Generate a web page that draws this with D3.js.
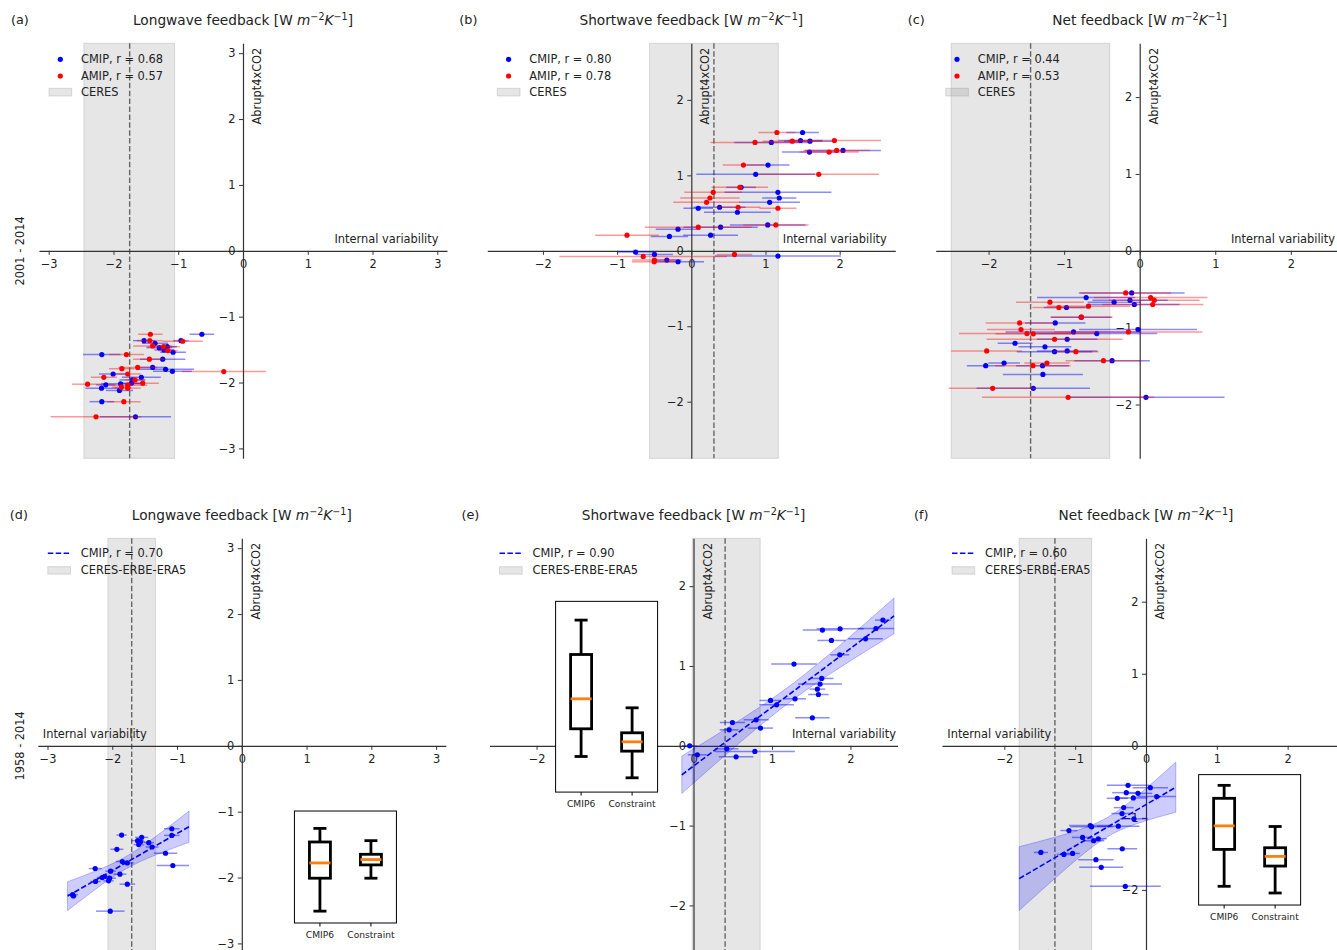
<!DOCTYPE html>
<html>
<head>
<meta charset="utf-8">
<script src="https://cdn.jsdelivr.net/npm/d3@7"></script>
<style>
  body { margin: 0; background: #fff; }
  svg { display: block; font-family: "DejaVu Sans", sans-serif; }
</style>
</head>
<body>
<svg id="fig" width="1337" height="950"></svg>
<script>
"use strict";

// ---- data: [internal variability, abrupt4xCO2, error] ----
var lwCmip01 = [[-0.635,-1.267,0.19],[-1.528,-1.364,0.17],[-0.958,-1.364,0.12],[-1.358,-1.404,0.2],[-1.292,-1.47,0.2],
  [-1.22,-1.505,0.15],[-1.17,-1.455,0.15],[-1.08,-1.54,0.2],[-2.18,-1.575,0.29],[-1.24,-1.645,0.35],[-1.395,-1.77,0.2],
  [-1.195,-1.80,0.44],[-1.09,-1.83,0.3],[-2.005,-1.87,0.22],[-1.57,-1.92,0.3],[-1.708,-1.96,0.2],[-1.723,-2.01,0.2],
  [-2.118,-2.035,0.15],[-1.89,-2.02,0.3],[-2.185,-2.085,0.25],[-1.908,-2.12,0.21],[-2.18,-2.29,0.19],[-1.66,-2.52,0.55]];
var lwAmip01 = [[-1.43,-1.267,0.19],[-1.44,-1.364,0.2],[-0.93,-1.373,0.31],[-1.395,-1.444,0.3],[-1.226,-1.455,0.25],
  [-1.16,-1.515,0.15],[-1.80,-1.575,0.27],[-1.446,-1.645,0.25],[-1.626,-1.77,0.3],[-1.87,-1.79,0.2],[-0.297,-1.833,0.65],
  [-1.78,-1.87,0.2],[-2.149,-1.92,0.2],[-1.667,-1.96,0.15],[-1.549,-2.01,0.25],[-2.40,-2.025,0.24],[-1.78,-2.04,0.3],
  [-1.877,-2.07,0.15],[-1.78,-2.085,0.2],[-1.84,-2.29,0.26],[-2.27,-2.52,0.7]];
var swCmip01 = [[1.50,1.568,0.22],[1.079,1.436,0.5],[1.472,1.462,0.3],[1.60,1.453,0.35],[1.593,1.308,0.37],[2.045,1.33,0.51],
  [1.034,1.136,0.29],[0.868,1.013,0.8],[0.671,0.841,0.2],[1.168,0.775,0.72],[1.186,0.70,0.23],[1.056,0.643,0.41],
  [0.094,0.564,0.2],[0.381,0.577,0.35],[0.622,0.511,0.45],[1.03,0.343,0.51],[0.395,0.313,0.5],[-0.179,0.286,0.3],
  [-0.295,0.19,0.25],[0.26,0.207,0.37],[-0.751,-0.017,0.25],[-0.497,-0.048,0.25],[-0.33,-0.123,0.2],[-0.179,-0.145,0.35],
  [1.168,-0.07,0.85]];
var swAmip01 = [[1.154,1.568,0.25],[0.859,1.436,0.6],[1.361,1.453,0.4],[1.929,1.462,0.63],[1.858,1.308,0.4],[1.96,1.33,0.45],
  [0.703,1.136,0.28],[1.718,1.013,0.81],[0.654,0.841,0.38],[0.295,0.775,0.39],[0.251,0.70,0.4],[0.206,0.643,0.45],
  [0.631,0.577,0.3],[1.168,0.564,0.25],[0.094,0.313,0.72],[1.14,0.343,0.44],[-0.867,0.207,0.43],[0.582,-0.048,0.24],
  [-0.648,-0.075,1.13],[-0.497,-0.123,0.3],[-0.50,-0.145,0.3]];
var netCmip01 = [[-0.106,-0.548,0.7],[-0.709,-0.608,0.65],[-0.128,-0.643,0.5],[-0.339,-0.669,0.35],[-0.071,-0.699,0.6],
  [-0.969,-0.738,0.3],[-0.775,-0.864,0.4],[-1.118,-0.939,0.4],[-0.022,-1.025,0.78],[-0.876,-1.056,0.9],[-0.568,-1.077,0.8],
  [-0.96,-1.151,0.4],[-1.65,-1.203,0.23],[-1.254,-1.25,0.35],[-1.127,-1.312,0.5],[-0.96,-1.303,0.4],[-0.366,-1.43,0.5],
  [-1.795,-1.46,0.21],[-2.038,-1.495,0.25],[-1.286,-1.495,0.35],[-1.281,-1.608,0.53],[-1.408,-1.79,0.75],[0.083,-1.907,1.04]];
var netAmip01 = [[-0.185,-0.548,0.6],[0.145,-0.608,0.75],[0.193,-0.643,0.6],[-1.188,-0.669,0.45],[0.172,-0.699,0.67],
  [-1.07,-0.738,0.35],[-0.678,-0.721,0.55],[-0.77,-0.864,0.41],[-1.589,-0.939,0.45],[-0.15,-1.056,0.98],[-1.571,-1.025,0.45],
  [-1.492,-1.077,0.9],[-1.408,-1.08,0.5],[-1.127,-1.151,0.9],[-2.025,-1.303,0.47],[-0.845,-1.312,0.3],[-0.48,-1.43,0.5],
  [-1.228,-1.46,0.3],[-1.413,-1.495,0.5],[-1.946,-1.79,0.58],[-0.947,-1.907,1.14]];
var lwCmip58 = [[-1.081,-1.259,0.12],[-1.081,-1.36,0.12],[-1.856,-1.355,0.08],[-1.546,-1.39,0.1],[-1.608,-1.44,0.1],
  [-1.566,-1.46,0.08],[-1.437,-1.47,0.08],[-1.592,-1.50,0.08],[-1.386,-1.536,0.1],[-1.929,-1.571,0.1],[-1.178,-1.631,0.18],
  [-1.065,-1.817,0.25],[-1.845,-1.757,0.1],[-1.768,-1.778,0.1],[-2.264,-1.863,0.1],[-2.026,-1.903,0.08],[-1.882,-1.949,0.1],
  [-2.119,-1.984,0.08],[-2.155,-2.0,0.08],[-2.041,-2.01,0.1],[-2.057,-2.05,0.08],[-2.259,-2.06,0.08],[-1.768,-2.10,0.12],
  [-2.611,-2.26,0.08],[-2.60,-2.28,0.05],[-2.031,-2.51,0.22]];
var swCmip58 = [[2.414,1.575,0.1],[2.325,1.47,0.23],[1.643,1.45,0.25],[1.869,1.466,0.3],[1.758,1.32,0.18],[2.193,1.34,0.22],
  [1.864,1.14,0.12],[1.281,1.024,0.29],[1.634,0.844,0.15],[1.613,0.773,0.28],[1.579,0.71,0.1],[1.592,0.643,0.13],
  [0.982,0.568,0.14],[1.294,0.589,0.14],[1.059,0.514,0.22],[1.515,0.351,0.22],[0.799,0.326,0.16],[0.496,0.292,0.16],
  [0.454,0.20,0.12],[0.854,0.222,0.16],[-0.049,0.0,0.1],[0.049,-0.113,0.12],[0.424,-0.038,0.15],[0.543,-0.138,0.22],
  [0.782,-0.071,0.51]];
var netCmip58 = [[-0.254,-0.549,0.3],[0.061,-0.581,0.25],[-0.278,-0.65,0.2],[-0.113,-0.66,0.2],[-0.405,-0.729,0.15],
  [-0.179,-0.724,0.2],[0.151,-0.705,0.27],[-0.315,-0.858,0.14],[-0.339,-0.94,0.15],[-0.17,-1.014,0.2],[-0.787,-1.107,0.3],
  [-0.768,-1.125,0.3],[-0.391,-1.116,0.3],[-1.088,-1.176,0.12],[-0.895,-1.272,0.15],[-0.739,-1.318,0.15],[-0.674,-1.29,0.12],
  [-1.484,-1.48,0.1],[-1.159,-1.508,0.1],[-1.036,-1.494,0.1],[-0.335,-1.429,0.21],[-0.707,-1.581,0.25],[-0.632,-1.687,0.31],
  [-0.292,-1.95,0.5]];

// observations [low, best, high]
var obsLw01 = [-2.457, -1.75, -1.057];
var obsSw01 = [-0.564, 0.305, 1.173];
var obsNet01 = [-2.495, -1.444, -0.396];
var obsLw58 = [-2.068, -1.70, -1.333];
var obsSw58 = [-0.015, 0.403, 0.85];
var obsNet58 = [-1.79, -1.286, -0.767];

// box stats [whisker low, q1, median, q3, whisker high]
var boxLabels = ["CMIP6", "Constraint"];
var boxLw = [[-2.51, -2.01, -1.778, -1.46, -1.254], [-2.01, -1.808, -1.727, -1.647, -1.44]];
var boxSw = [[-0.134, 0.213, 0.589, 1.144, 1.575], [-0.401, -0.067, 0.05, 0.163, 0.476]];
var boxNet = [[-1.95, -1.438, -1.111, -0.729, -0.549], [-2.043, -1.669, -1.535, -1.415, -1.12]];

var ticks3 = [-3, -2, -1, 0, 1, 2, 3];
var ticks2 = [-2, -1, 0, 1, 2];
var titles = ["Longwave feedback", "Shortwave feedback", "Net feedback"];
var periods = ["2001 - 2014", "1958 - 2014"];

var W = 408, H = 415;
var fs = 11.4;

var panels = [
  {tag:"(a)", left:39, top:43.3, lim:3.15, ticks:ticks3, title:titles[0], cmip:lwCmip01, amip:lwAmip01, obs:obsLw01, r:["0.68","0.57"], obsName:"CERES", xlab:["end", 399.5]},
  {tag:"(b)", left:487.3, top:43.3, lim:2.75, ticks:ticks2, title:titles[1], cmip:swCmip01, amip:swAmip01, obs:obsSw01, r:["0.80","0.78"], obsName:"CERES", xlab:["end", 399.5]},
  {tag:"(c)", left:935.7, top:43.3, lim:2.70, ticks:ticks2, title:titles[2], cmip:netCmip01, amip:netAmip01, obs:obsNet01, r:["0.44","0.53"], obsName:"CERES", xlab:["end", 399.3]},
  {tag:"(d)", left:37.8, top:538.3, lim:3.15, ticks:ticks3, title:titles[0], cmip:lwCmip58, obs:obsLw58, r:["0.70"], obsName:"CERES-ERBE-ERA5", xlab:["start", 5], box:boxLw, inset:[0.629, -0.99, -2.69]},
  {tag:"(e)", left:489.5, top:538.3, lim:2.60, ticks:ticks2, title:titles[1], cmip:swCmip58, obs:obsSw58, r:["0.90"], obsName:"CERES-ERBE-ERA5", xlab:["end", 406.5], box:boxSw, inset:[0.162, 1.81, -0.58]},
  {tag:"(f)", left:942, top:538.3, lim:2.88, ticks:ticks2, title:titles[2], cmip:netCmip58, obs:obsNet58, r:["0.60"], obsName:"CERES-ERBE-ERA5", xlab:["start", 5.3], box:boxNet, inset:[0.629, -0.40, -2.21]}
];

var svg = d3.select("#fig");
var fmt = function(d){ return d < 0 ? "\u2212" + (-d) : String(d); };

function fit(pts){
  var n = pts.length;
  var mx = d3.mean(pts, function(d){ return d[0]; });
  var my = d3.mean(pts, function(d){ return d[1]; });
  var sxx = d3.sum(pts, function(d){ return (d[0]-mx)*(d[0]-mx); });
  var sxy = d3.sum(pts, function(d){ return (d[0]-mx)*(d[1]-my); });
  var b = sxy/sxx, a = my - b*mx;
  var s = Math.sqrt(d3.sum(pts, function(d){ var e = d[1]-a-b*d[0]; return e*e; })/(n-2));
  return {a:a, b:b, se:function(x){ return 2.07*s*Math.sqrt(1/n + (x-mx)*(x-mx)/sxx); }};
}

function series(g, x, y, data, color, barOp){
  g.selectAll(null).data(data).enter().append("line")
    .attr("x1", function(d){ return x(d[0]-d[2]); })
    .attr("x2", function(d){ return x(d[0]+d[2]); })
    .attr("y1", function(d){ return y(d[1]); })
    .attr("y2", function(d){ return y(d[1]); })
    .attr("stroke", color).attr("stroke-opacity", barOp).attr("stroke-width", 1.5);
  g.selectAll(null).data(data).enter().append("circle")
    .attr("cx", function(d){ return x(d[0]); })
    .attr("cy", function(d){ return y(d[1]); })
    .attr("r", 2.6).attr("fill", color);
}

panels.forEach(function(p, i){
  var x = d3.scaleLinear().domain([-p.lim, p.lim]).range([p.left, p.left + W]);
  var y = d3.scaleLinear().domain([-p.lim, p.lim]).range([p.top + H, p.top]);
  var g = svg.append("g");

  // observational range
  g.append("rect")
    .attr("x", x(p.obs[0])).attr("y", p.top)
    .attr("width", x(p.obs[2]) - x(p.obs[0])).attr("height", H)
    .attr("fill", "#808080").attr("fill-opacity", 0.2)
    .attr("stroke", "#808080").attr("stroke-opacity", 0.25);
  g.append("line")
    .attr("x1", x(p.obs[1])).attr("x2", x(p.obs[1]))
    .attr("y1", p.top).attr("y2", p.top + H)
    .attr("stroke", "#666").attr("stroke-width", 1.4).attr("stroke-dasharray", "5.5,2.4");

  // axes through zero
  var ax = g.append("g").attr("transform", "translate(0," + y(0) + ")")
    .call(d3.axisBottom(x).tickValues(p.ticks).tickFormat(fmt).tickSize(4).tickSizeOuter(0).tickPadding(5));
  var ay = g.append("g").attr("transform", "translate(" + x(0) + ",0)")
    .call(d3.axisLeft(y).tickValues(p.ticks).tickFormat(fmt).tickSize(4).tickSizeOuter(0).tickPadding(3.5));
  [ax, ay].forEach(function(a){
    a.attr("font-size", null).attr("font-family", null);
    a.select(".domain").attr("stroke", "#333").attr("stroke-width", 1.2);
    a.selectAll(".tick line").attr("stroke", "#333");
    a.selectAll(".tick text").attr("fill", "#222").style("font-size", fs + "px");
  });

  // axis labels
  g.append("text")
    .attr("x", p.left + p.xlab[1]).attr("y", y(0) - 8)
    .attr("text-anchor", p.xlab[0]).style("font-size", fs + "px").attr("fill", "#222")
    .text("Internal variability");
  g.append("text")
    .attr("transform", "translate(" + (x(0) + 18) + "," + (p.top + 4.4) + ") rotate(-90)")
    .attr("text-anchor", "end").style("font-size", fs + "px").attr("fill", "#222")
    .text("Abrupt4xCO2");

  // title
  var t = g.append("text")
    .attr("x", p.left + W/2).attr("y", p.top - 18.3)
    .attr("text-anchor", "middle").style("font-size", "13.7px").attr("fill", "#222");
  t.append("tspan").text(p.title + " [W ");
  t.append("tspan").attr("font-style", "italic").text("m");
  t.append("tspan").style("font-size", "9.6px").attr("dy", -5.5).text("\u22122");
  t.append("tspan").attr("font-style", "italic").attr("dy", 5.5).text("K");
  t.append("tspan").style("font-size", "9.6px").attr("dy", -5.5).text("\u22121");
  t.append("tspan").attr("dy", 5.5).text("]");

  g.append("text")
    .attr("x", p.left - 28).attr("y", p.top - 19.3)
    .style("font-size", "12.8px").attr("fill", "#222").text(p.tag);

  if (i % 3 === 0) {
    g.append("text")
      .attr("transform", "translate(24.3," + (p.top + H/2) + ") rotate(-90)")
      .attr("text-anchor", "middle").style("font-size", fs + "px").attr("fill", "#222")
      .text(periods[i/3]);
  }

  var lx = p.left, ly = p.top;
  if (p.amip) {
    series(g, x, y, p.cmip, "#0000ff", 0.45);
    series(g, x, y, p.amip, "#ff0000", 0.4);

    // legend
    g.append("circle").attr("cx", lx + 21.3).attr("cy", ly + 16).attr("r", 2.6).attr("fill", "#0000ff");
    g.append("circle").attr("cx", lx + 21.3).attr("cy", ly + 32.7).attr("r", 2.6).attr("fill", "#ff0000");
    g.append("rect").attr("x", lx + 10).attr("y", ly + 45).attr("width", 22.7).attr("height", 7.7)
      .attr("fill", "#808080").attr("fill-opacity", 0.2).attr("stroke", "#808080").attr("stroke-opacity", 0.25);
    var rows = ["CMIP, r = " + p.r[0], "AMIP, r = " + p.r[1], p.obsName];
    rows.forEach(function(s, k){
      g.append("text").attr("x", lx + 42).attr("y", ly + 16 + k*16.4).attr("dy", "0.35em")
        .style("font-size", fs + "px").attr("fill", "#222").text(s);
    });
  } else {
    // regression with confidence band
    var f = fit(p.cmip);
    var xr = d3.extent(p.cmip.map(function(d){ return d[0]-d[2]; })
      .concat(p.cmip.map(function(d){ return d[0]+d[2]; })).concat([p.obs[0], p.obs[2]]));
    var xs = d3.range(61).map(function(k){ return xr[0] + (xr[1]-xr[0])*k/60; });
    g.append("path").datum(xs)
      .attr("d", d3.area()
        .x(function(v){ return x(v); })
        .y0(function(v){ return y(f.a + f.b*v - f.se(v)); })
        .y1(function(v){ return y(f.a + f.b*v + f.se(v)); }))
      .attr("fill", "#0000ff").attr("fill-opacity", 0.2)
      .attr("stroke", "#0000ff").attr("stroke-opacity", 0.25);
    series(g, x, y, p.cmip, "#0000ff", 0.45);
    g.append("line")
      .attr("x1", x(xr[0])).attr("x2", x(xr[1]))
      .attr("y1", y(f.a + f.b*xr[0])).attr("y2", y(f.a + f.b*xr[1]))
      .attr("stroke", "#0000ff").attr("stroke-width", 1.6).attr("stroke-dasharray", "5.5,2.4");

    // legend
    g.append("line").attr("x1", lx + 10).attr("x2", lx + 33.3).attr("y1", ly + 15).attr("y2", ly + 15)
      .attr("stroke", "#0000ff").attr("stroke-width", 1.6).attr("stroke-dasharray", "5.5,2.4");
    g.append("rect").attr("x", lx + 10).attr("y", ly + 28.4).attr("width", 22.7).attr("height", 7.5)
      .attr("fill", "#808080").attr("fill-opacity", 0.2).attr("stroke", "#808080").attr("stroke-opacity", 0.25);
    ["CMIP, r = " + p.r[0], p.obsName].forEach(function(s, k){
      g.append("text").attr("x", lx + 43).attr("y", ly + 15 + k*17).attr("dy", "0.35em")
        .style("font-size", fs + "px").attr("fill", "#222").text(s);
    });

    // inset box plot, sharing the main y scale
    var fx = p.left + p.inset[0]*W, fw = 0.25*W;
    var fy0 = y(p.inset[1]), fy1 = y(p.inset[2]);
    var bx = d3.scalePoint().domain(boxLabels).range([fx, fx + fw]).padding(0.5);
    var ig = g.append("g");
    ig.append("rect").attr("x", fx).attr("y", fy0).attr("width", fw).attr("height", fy1 - fy0)
      .attr("fill", "#fff").attr("stroke", "#000").attr("stroke-width", 1);
    p.box.forEach(function(b, k){
      var cx = bx(boxLabels[k]), hw = 10.5, cw = 6.5;
      var bg = ig.append("g").attr("stroke", "#000").attr("stroke-width", 2.8).attr("fill", "none");
      bg.append("line").attr("x1", cx).attr("x2", cx).attr("y1", y(b[0])).attr("y2", y(b[1]));
      bg.append("line").attr("x1", cx).attr("x2", cx).attr("y1", y(b[3])).attr("y2", y(b[4]));
      bg.append("line").attr("x1", cx - cw).attr("x2", cx + cw).attr("y1", y(b[0])).attr("y2", y(b[0]));
      bg.append("line").attr("x1", cx - cw).attr("x2", cx + cw).attr("y1", y(b[4])).attr("y2", y(b[4]));
      bg.append("rect").attr("x", cx - hw).attr("width", 2*hw).attr("y", y(b[3])).attr("height", y(b[1]) - y(b[3]));
      ig.append("line").attr("x1", cx - hw).attr("x2", cx + hw).attr("y1", y(b[2])).attr("y2", y(b[2]))
        .attr("stroke", "#ff7f0e").attr("stroke-width", 2.8);
      ig.append("line").attr("x1", cx).attr("x2", cx).attr("y1", fy1).attr("y2", fy1 + 3.5)
        .attr("stroke", "#000").attr("stroke-width", 1);
      ig.append("text").attr("x", cx).attr("y", fy1 + 15).attr("text-anchor", "middle")
        .style("font-size", "9.1px").attr("fill", "#222").text(boxLabels[k]);
    });
  }
});
</script>
</body>
</html>
